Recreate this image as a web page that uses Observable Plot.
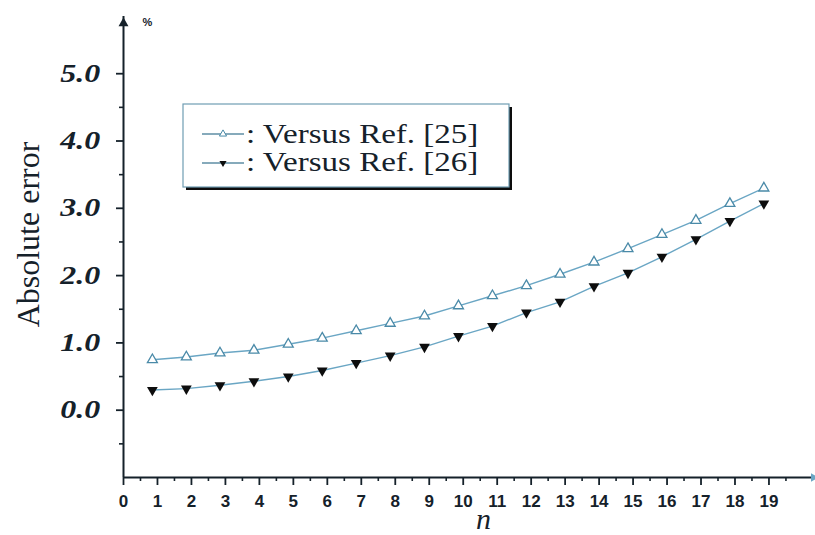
<!DOCTYPE html>
<html>
<head>
<meta charset="utf-8">
<script src="https://cdn.jsdelivr.net/npm/d3@7"></script>
<script src="https://cdn.jsdelivr.net/npm/@observablehq/plot@0.6"></script>
<style>
  html, body { margin: 0; padding: 0; background: #fff; overflow: hidden; }
</style>
</head>
<body>
<div id="chart"></div>
<script>
// ---- data ----
const nPos  = [0.85, 1.85, 2.84, 3.84, 4.85, 5.85, 6.85, 7.85, 8.86, 9.86, 10.86, 11.86, 12.85, 13.85, 14.85, 15.85, 16.85, 17.85, 18.85];
const ref25 = [0.75, 0.79, 0.85, 0.89, 0.98, 1.07, 1.18, 1.29, 1.40, 1.55, 1.70, 1.85, 2.02, 2.20, 2.40, 2.61, 2.82, 3.07, 3.30];
const ref26 = [0.30, 0.32, 0.37, 0.43, 0.50, 0.59, 0.70, 0.81, 0.94, 1.10, 1.25, 1.45, 1.61, 1.84, 2.04, 2.28, 2.54, 2.81, 3.07];
const xTicks = [0, 1, 2, 3, 4, 5, 6, 7, 8, 9, 10, 11, 12, 13, 14, 15, 16, 17, 18, 19];
const xMinorTicks = [0.5, 1.5, 2.5, 3.5, 4.5, 5.5, 6.5, 7.5, 8.5, 9.5, 10.5, 11.5, 12.5, 13.5, 14.5, 15.5, 16.5, 17.5, 18.5, 19.5];
const yTicks = [0, 1, 2, 3, 4, 5];
const yMinorTicks = [-0.5, 0.5, 1.5, 2.5, 3.5, 4.5];
const seriesNames = ["Versus Ref. [25]", "Versus Ref. [26]"];
const yTitle = "Absolute error";
const xTitle = "n";
const unitLabel = "%";

const s25 = nPos.map((n, i) => ({n, v: ref25[i]}));
const s26 = nPos.map((n, i) => ({n, v: ref26[i]}));

const ink = "#15212a";
const lineColor = "#6aa6c4";
const openStroke = "#4a8aa8";
const serif = "'Liberation Serif', 'Times New Roman', Times, serif";
const sans = "'Liberation Sans', Arial, Helvetica, sans-serif";

const chart = Plot.plot({
  width: 815,
  height: 535,
  marginLeft: 123,
  marginRight: 0,
  marginTop: 16,
  marginBottom: 58,
  x: {domain: [0, 20.37]},
  y: {domain: [-1, 5.85]},
  style: {background: "#fff", color: ink, overflow: "visible"},
  marks: [
    // axis lines
    Plot.ruleY([-1], {stroke: ink, strokeWidth: 2}),
    Plot.ruleX([0], {stroke: ink, strokeWidth: 2}),
    // arrow heads
    Plot.dot([0], {frameAnchor: "top-left", symbol: "triangle", r: 3.7, fill: ink, stroke: "none", dy: 6.8}),
    Plot.dot([0], {frameAnchor: "bottom-right", symbol: "triangle", r: 3.2, fill: lineColor, stroke: "none", rotate: 90, dx: -2}),
    // x axis
    Plot.axisX({ticks: xTicks, tickSize: 8, tickPadding: 9, strokeWidth: 1.8, stroke: ink,
      fontSize: 17, fontWeight: "bold", fontFamily: sans, tickFormat: d => String(d), label: null}),
    Plot.axisX({ticks: xMinorTicks, tickSize: 4, strokeWidth: 1.6, stroke: ink, tickFormat: () => "", label: null}),
    // y axis ticks
    Plot.axisY({ticks: yTicks, tickSize: 7, strokeWidth: 1.8, stroke: ink, tickFormat: () => "", label: null}),
    Plot.axisY({ticks: yMinorTicks, tickSize: 4, strokeWidth: 1.6, stroke: ink, tickFormat: () => "", label: null}),
    // y tick labels
    Plot.text(yTicks, {y: d => d, frameAnchor: "left", dx: -23, textAnchor: "end", lineAnchor: "middle", text: d => d.toFixed(1),
      fontSize: 25, fontWeight: "bold", fontStyle: "italic", fontFamily: serif, fill: ink}),
    // titles
    Plot.text([yTitle], {frameAnchor: "left", dx: -95, dy: -12.5, rotate: -90, textAnchor: "middle", lineAnchor: "middle",
      fontSize: 32, fontFamily: serif, fill: ink}),
    Plot.text([xTitle], {frameAnchor: "bottom", dx: 14, dy: 42, textAnchor: "middle", lineAnchor: "middle",
      fontSize: 30, fontStyle: "italic", fontFamily: serif, fill: ink}),
    Plot.text([unitLabel], {frameAnchor: "top-left", dx: 24, dy: 6, textAnchor: "middle", lineAnchor: "middle",
      fontSize: 11, fontWeight: "bold", fontFamily: sans, fill: ink}),
    // series
    Plot.line(s25, {x: "n", y: "v", stroke: lineColor, strokeWidth: 1.4}),
    Plot.line(s26, {x: "n", y: "v", stroke: lineColor, strokeWidth: 1.4}),
    Plot.dot(s25, {x: "n", y: "v", symbol: "triangle", r: 3.7, fill: "#fff", stroke: openStroke, strokeWidth: 1.3}),
    Plot.dot(s26, {x: "n", y: "v", symbol: "triangle", r: 4, rotate: 180, fill: "#0d0d0d", stroke: "none"})
  ]
});

document.getElementById("chart").appendChild(chart);

// stretch the y tick labels horizontally (the reference face is wide)
d3.select(chart).selectAll("text").each(function() {
  const t = this.textContent.trim();
  if (/^\d\.\d$/.test(t)) {
    const b = this.getBBox();
    const rx = b.x + b.width;
    const ex = this.getAttribute("transform") || "";
    this.setAttribute("transform", `${ex} translate(${rx},0) scale(1.28,1) translate(${-rx},0)`);
  }
});

// legend (boxed, with shadow)
const svg = d3.select(chart);
const lg = svg.append("g").attr("class", "legend");
lg.append("rect").attr("x", 186).attr("y", 107).attr("width", 326).attr("height", 83).attr("fill", "#0d0d0d");
lg.append("rect").attr("x", 183).attr("y", 104).attr("width", 326).attr("height", 83)
  .attr("fill", "#fff").attr("stroke", "#6f9db3").attr("stroke-width", 1.2);
const rows = [
  {name: seriesNames[0], baseline: 143, mid: 134, open: true},
  {name: seriesNames[1], baseline: 171, mid: 163, open: false}
];
rows.forEach(r => {
  lg.append("line").attr("x1", 202).attr("x2", 244).attr("y1", r.mid).attr("y2", r.mid)
    .attr("stroke", "#5e8ea5").attr("stroke-width", 1.3);
  const sym = d3.symbol(d3.symbolTriangle, 22)();
  lg.append("path").attr("d", sym)
    .attr("transform", `translate(223,${r.mid})${r.open ? "" : " rotate(180)"}`)
    .attr("fill", r.open ? "#fff" : "#0d0d0d")
    .attr("stroke", r.open ? openStroke : "none").attr("stroke-width", 1);
  lg.append("text").attr("x", 0).attr("y", 0)
    .attr("text-anchor", "start")
    .attr("transform", `translate(246,${r.baseline}) scale(1.18,1)`)
    .attr("font-family", serif).attr("font-size", 28).attr("fill", ink)
    .text(": " + r.name);
});
</script>
</body>
</html>
